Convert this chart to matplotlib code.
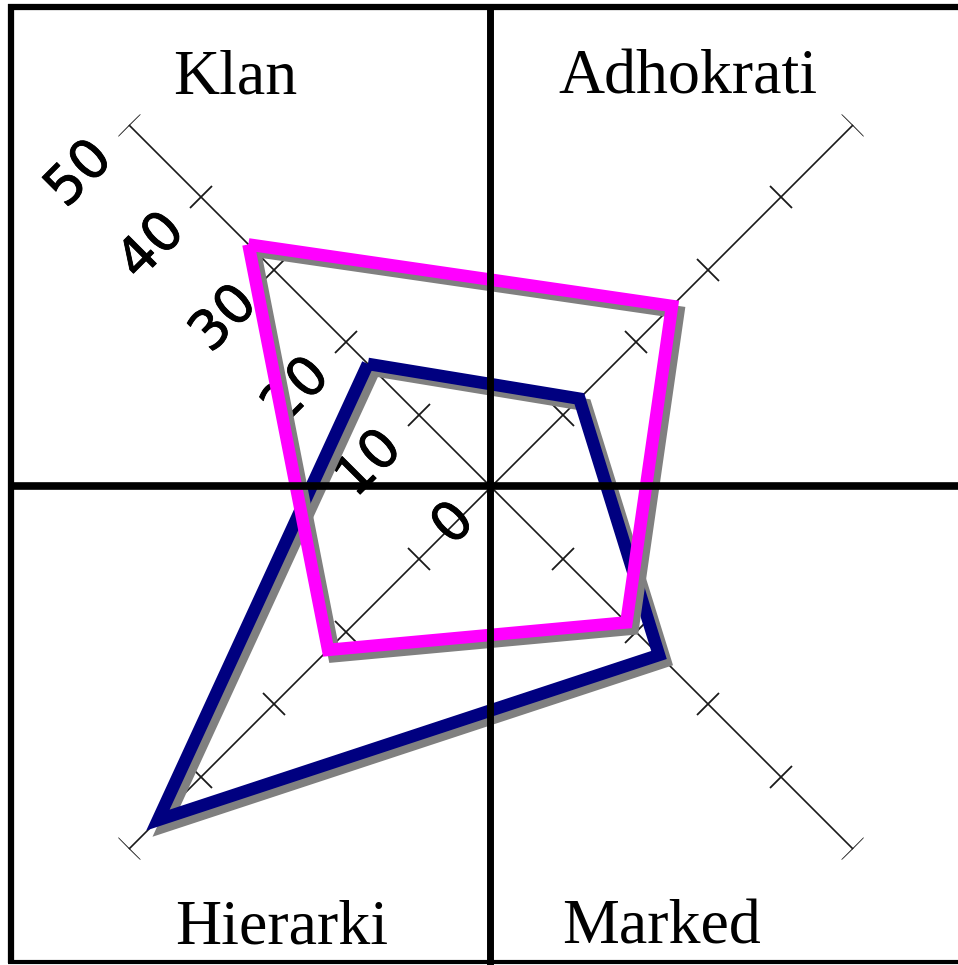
import numpy as np
import matplotlib
matplotlib.use("Agg")
import matplotlib.pyplot as plt
import matplotlib.patheffects as pe
from matplotlib.markers import MarkerStyle
from matplotlib.transforms import Affine2D

# categories, each on its own diagonal axis (angle in degrees)
categories = ["Klan", "Adhokrati", "Marked", "Hierarki"]
angles_deg = [135, 45, 315, 225]

# values
series_navy = [17, 12.2, 23.2, 46]
series_magenta = [33.5, 25, 18.7, 22.5]

tick_values = [10, 20, 30, 40, 50]
tick_labels = ["0", "10", "20", "30", "40", "50"]
r_max = 50

W, H = 958, 965
fig = plt.figure(figsize=(W / 100, H / 100), dpi=100)
fig.patch.set_facecolor("white")

# polar axes centred on the quadrant cross
cx, cy = 491, H - 487
R = 512
ax = fig.add_axes([(cx - R) / W, (cy - R) / H, 2 * R / W, 2 * R / H],
                  projection="polar")
ax.set_ylim(0, r_max)
ax.grid(False)
ax.set_xticks([])
ax.set_yticks([])
ax.spines["polar"].set_visible(False)
ax.patch.set_alpha(0)

thetas = np.radians(angles_deg)

# spokes with perpendicular tick marks
for t, a in zip(thetas, angles_deg):
    ax.plot([t, t], [0, r_max], color="#1a1a1a", lw=1.2, zorder=1)
    mk = MarkerStyle("_", transform=Affine2D().rotate_deg(a + 90))
    ax.plot([t] * len(tick_values), tick_values, ls="none", marker=mk,
            markersize=23, markeredgewidth=1.3, color="#1a1a1a", zorder=1)

# scale labels along the Klan spoke (slightly heavier strokes)
heavy = [pe.withStroke(linewidth=0.6, foreground="black")]
for i, lab in enumerate(tick_labels):
    ax.annotate(lab, xy=(thetas[0], i * 10), xytext=(-18, -18),
                textcoords="offset points", rotation=45,
                rotation_mode="anchor", ha="right", va="center",
                fontsize=39, family="DejaVu Sans", color="black", zorder=2,
                path_effects=heavy)

shadow = [pe.SimpleLineShadow(offset=(4.5, -4.5), shadow_color="#808080",
                              alpha=1.0), pe.Normal()]

for vals, col in [(series_navy, "#000080"), (series_magenta, "#ff00ff")]:
    t_closed = np.append(thetas, thetas[0])
    v_closed = np.append(vals, vals[0])
    ax.plot(t_closed, v_closed, color=col, lw=9, solid_joinstyle="miter",
            solid_capstyle="butt", path_effects=shadow, zorder=3)

# frame and quadrant lines on top
ov = fig.add_axes([0, 0, 1, 1], zorder=5)
ov.set_xlim(0, W)
ov.set_ylim(H, 0)
ov.axis("off")
ov.patch.set_alpha(0)
ov.plot([11, 11], [4, 963], color="black", lw=4.5, solid_capstyle="butt")
ov.plot([8, W], [7, 7], color="black", lw=4.5, solid_capstyle="butt")
ov.plot([8, W], [962, 962], color="black", lw=3, solid_capstyle="butt")
ov.plot([490, 490], [4, 965], color="black", lw=5, solid_capstyle="butt")
ov.plot([8, W], [486, 486], color="black", lw=5.5, solid_capstyle="butt")

# category names in the four corners
label_pos = {"Klan": (235, 93), "Adhokrati": (688, 93),
             "Hierarki": (282, 943), "Marked": (661, 943)}
for name in categories:
    x, y = label_pos[name]
    fig.text(x / W, 1 - y / H, name, ha="center", va="baseline",
             fontsize=46, family="Liberation Serif", color="black")

fig.savefig("out.png", dpi=100, facecolor="white")
